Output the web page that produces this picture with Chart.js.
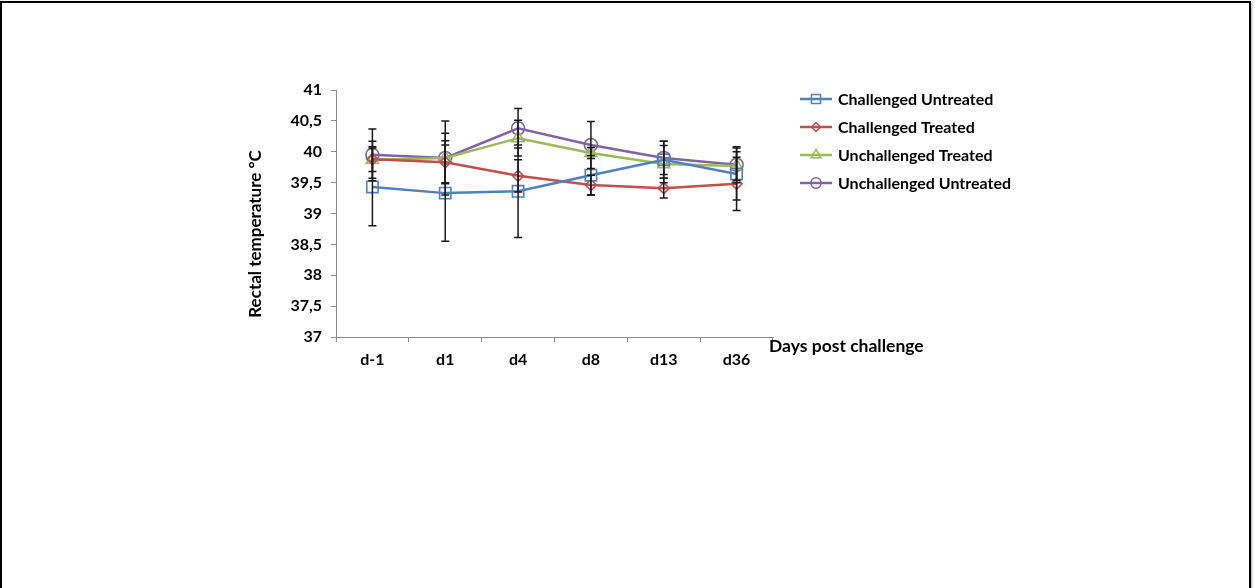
<!DOCTYPE html>
<html>
<head>
<meta charset="utf-8">
<title>Rectal temperature by day post challenge</title>
<script src="https://cdn.jsdelivr.net/npm/chart.js@4.4.1/dist/chart.umd.min.js"></script>
<style>
  html, body { margin: 0; padding: 0; background: #fff; }
  #wrap { position: relative; width: 1255px; height: 588px; overflow: hidden; }
  #frame {
    position: absolute; left: 0; top: 1px; width: 1247px; height: 600px;
    border: 2px solid #000; border-bottom: none;
    box-shadow: 1px 1px 2px rgba(0,0,0,0.35);
    pointer-events: none;
  }
  canvas { position: absolute; left: 0; top: 0; }
</style>
</head>
<body>
<div id="wrap">
  <canvas id="chart" width="1255" height="588"></canvas>
  <div id="frame"></div>
</div>
<script>
// Days post challenge
const days = ['d-1', 'd1', 'd4', 'd8', 'd13', 'd36'];

// Mean rectal temperature (°C) per group
const challengedUntreated   = [39.43, 39.33, 39.36, 39.62, 39.87, 39.64];
const challengedTreated     = [39.88, 39.83, 39.61, 39.46, 39.41, 39.48];
const unchallengedTreated   = [39.87, 39.90, 40.22, 39.98, 39.80, 39.77];
const unchallengedUntreated = [39.95, 39.90, 40.38, 40.11, 39.90, 39.79];

// Standard deviation per group (symmetric error bars)
const challengedUntreatedSd   = [0.63, 0.78, 0.75, 0.32, 0.30, 0.42];
const challengedTreatedSd     = [0.20, 0.35, 0.26, 0.16, 0.16, 0.43];
const unchallengedTreatedSd   = [0.30, 0.40, 0.29, 0.09, 0.30, 0.23];
const unchallengedUntreatedSd = [0.42, 0.60, 0.32, 0.38, 0.27, 0.29];

// Y axis range and labels
const yMin = 37, yMax = 41, yStep = 0.5;
const yTitle = 'Rectal temperature °C';
const xTitle = 'Days post challenge';

const FONT = 'Lato';
const series = [
  { label: 'Challenged Untreated',   data: challengedUntreated,   sd: challengedUntreatedSd,   color: '#4F81BD', style: 'rect',     radius: 8 },
  { label: 'Challenged Treated',     data: challengedTreated,     sd: challengedTreatedSd,     color: '#C0504D', style: 'rectRot',  radius: 5.5 },
  { label: 'Unchallenged Treated',   data: unchallengedTreated,   sd: unchallengedTreatedSd,   color: '#9BBB59', style: 'triangle', radius: 7 },
  { label: 'Unchallenged Untreated', data: unchallengedUntreated, sd: unchallengedUntreatedSd, color: '#8064A2', style: 'circle',   radius: 6.5 }
];

// Error bars, axis titles and legend are painted on top of the chart
const extras = {
  id: 'extras',
  afterDatasetsDraw(chart) {
    const ctx = chart.ctx;
    const xs = chart.scales.x, ys = chart.scales.y;
    ctx.save();
    ctx.strokeStyle = '#1a1a1a';
    ctx.lineWidth = 1.5;
    series.forEach(s => {
      s.data.forEach((v, i) => {
        const x = xs.getPixelForValue(i);
        const top = ys.getPixelForValue(v + s.sd[i]);
        const bot = ys.getPixelForValue(v - s.sd[i]);
        ctx.beginPath();
        ctx.moveTo(x, top); ctx.lineTo(x, bot);
        ctx.moveTo(x - 4, top); ctx.lineTo(x + 4, top);
        ctx.moveTo(x - 4, bot); ctx.lineTo(x + 4, bot);
        ctx.stroke();
      });
    });
    ctx.restore();
  },
  afterDraw(chart) {
    const ctx = chart.ctx;
    const area = chart.chartArea;
    ctx.save();
    ctx.fillStyle = '#000';

    // Y axis title
    ctx.font = 'bold 17px ' + FONT;
    ctx.textAlign = 'center';
    ctx.textBaseline = 'middle';
    ctx.save();
    ctx.translate(256, 234);
    ctx.rotate(-Math.PI / 2);
    ctx.fillText(yTitle, 0, 0);
    ctx.restore();

    // X axis title, to the right of the axis end
    ctx.textAlign = 'left';
    ctx.font = 'bold 17.5px ' + FONT;
    ctx.fillText(xTitle, area.right - 4, area.bottom + 9);

    // Legend
    ctx.font = 'bold 16px ' + FONT;
    series.forEach((s, i) => {
      const y = 99 + 28 * i;
      ctx.strokeStyle = s.color;
      ctx.lineWidth = 2.5;
      ctx.beginPath();
      ctx.moveTo(800, y); ctx.lineTo(832, y);
      ctx.stroke();
      ctx.lineWidth = 1.5;
      ctx.fillStyle = 'rgba(0,0,0,0)';
      Chart.helpers.drawPoint(ctx, { pointStyle: s.style, radius: s.radius * 0.8, borderWidth: 1.5 }, 816, y);
      ctx.fillStyle = '#000';
      ctx.fillText(s.label, 838, y + 1);
    });
    ctx.restore();
  }
};

new Chart(document.getElementById('chart'), {
  type: 'line',
  data: {
    labels: days,
    datasets: series.map(s => ({
      label: s.label,
      data: s.data,
      borderColor: s.color,
      backgroundColor: 'rgba(0,0,0,0)',
      borderWidth: 2.5,
      tension: 0,
      pointStyle: s.style,
      pointRadius: s.radius,
      pointHoverRadius: s.radius,
      pointBorderWidth: 1.6,
      pointBorderColor: s.color,
      pointBackgroundColor: 'rgba(0,0,0,0)'
    }))
  },
  options: {
    responsive: false,
    animation: false,
    devicePixelRatio: 1,
    layout: { padding: { left: 240, top: 90, right: 482, bottom: 0 } },
    plugins: { legend: { display: false }, tooltip: { enabled: false } },
    scales: {
      x: {
        type: 'category',
        offset: true,
        grid: { offset: true, drawOnChartArea: false, drawTicks: true, tickLength: 5, color: '#8c8c8c' },
        border: { color: '#8c8c8c', width: 1 },
        ticks: { color: '#000', font: { family: FONT, weight: 'bold', size: 16 }, padding: 8, maxRotation: 0 },
        afterFit(scale) { scale.height = 251; }
      },
      y: {
        min: yMin, max: yMax,
        grid: { drawOnChartArea: false, drawTicks: true, tickLength: 5, color: '#8c8c8c' },
        border: { color: '#8c8c8c', width: 1 },
        ticks: {
          stepSize: yStep,
          color: '#000',
          padding: 9,
          font: { family: FONT, weight: 'bold', size: 16 },
          callback: v => String(v).replace('.', ',')
        },
        afterFit(scale) { scale.width = 96; }
      }
    }
  },
  plugins: [extras]
});
</script>
</body>
</html>
